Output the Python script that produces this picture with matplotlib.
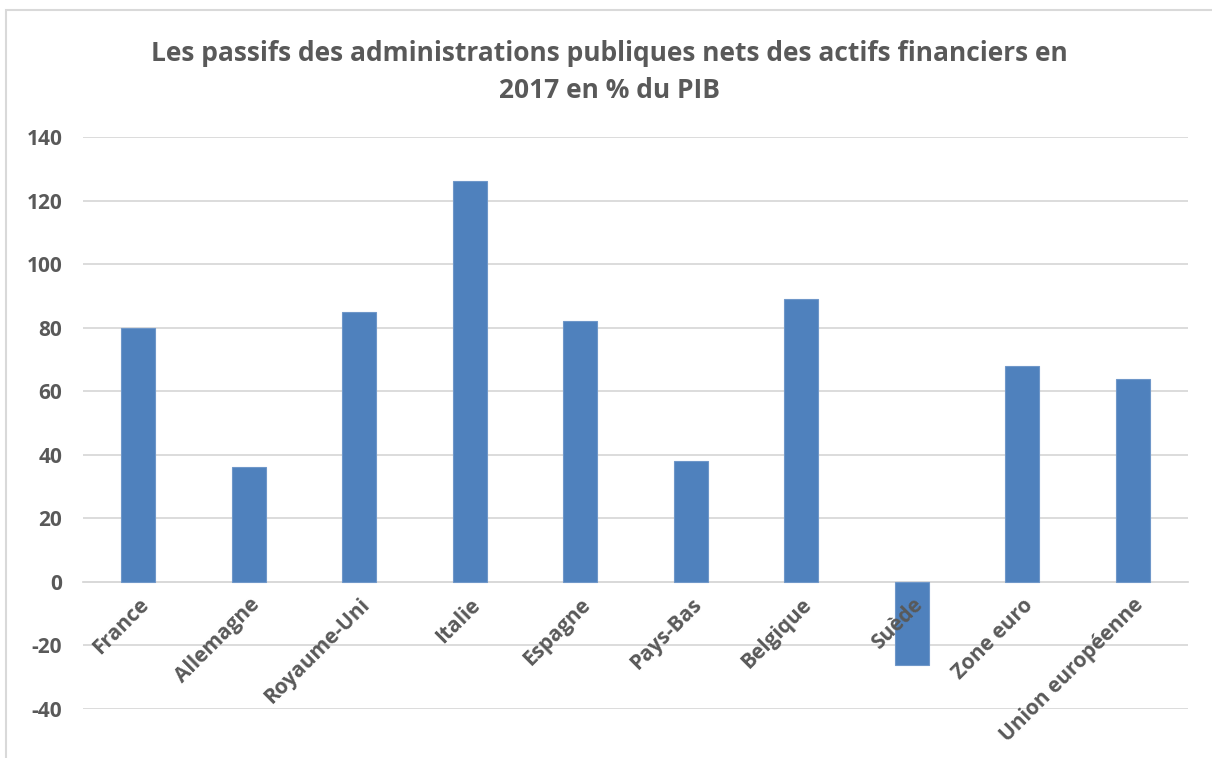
import matplotlib
matplotlib.use('Agg')
import matplotlib.pyplot as plt
import numpy as np
from matplotlib.patches import Rectangle

# données du graphique
pays = ['France', 'Allemagne', 'Royaume-Uni', 'Italie', 'Espagne', 'Pays-Bas',
        'Belgique', 'Suède', 'Zone euro', 'Union européenne']
valeurs = [80, 36, 85, 126, 82, 38, 89, -26, 68, 64]
yticks = [-40, -20, 0, 20, 40, 60, 80, 100, 120, 140]
titre = 'Les passifs des administrations publiques nets des actifs financiers en\n2017 en % du PIB'

plt.rcParams['font.family'] = ['Open Sans', 'DejaVu Sans']
gris = '#595959'
bleu = '#4f81bd'

fig = plt.figure(figsize=(12.12, 7.58), dpi=100)
ax = fig.add_axes([0.0685, 0.0646, 0.9117, 0.7547])

x = np.arange(len(pays))
ax.bar(x, valeurs, width=0.31, color=bleu, edgecolor='#6f97c9', linewidth=0.8, zorder=3)

ax.set_xlim(-0.5, len(pays) - 0.5)
ax.set_ylim(-40, 140)
ax.set_yticks(yticks)
ax.set_yticklabels([str(v) for v in yticks], fontsize=15, fontweight='bold', color=gris)
ax.tick_params(axis='y', length=0, pad=15)

# grille horizontale
ax.grid(axis='y', color='#d9d9d9', linewidth=1.3, zorder=0)
for s in ['top', 'right', 'left']:
    ax.spines[s].set_visible(False)
# axe des x à zéro
ax.spines['bottom'].set_position(('data', 0))
ax.spines['bottom'].set_color('#d9d9d9')
ax.spines['bottom'].set_linewidth(1.3)
ax.set_xticks(x)
ax.set_xticklabels(pays, fontsize=15, fontweight='bold', color=gris,
                   rotation=45, ha='right', va='top', rotation_mode='anchor')
ax.tick_params(axis='x', length=0, pad=9)
ax.xaxis.set_zorder(5)

fig.text(0.503, 0.905, titre, ha='center', va='center', fontsize=19,
         fontweight='bold', color=gris, linespacing=1.5)

# cadre du graphique
fig.patches.append(Rectangle((0.005, -0.01), 1.0, 1.0 - 0.0035, transform=fig.transFigure,
                             fill=False, edgecolor='#d9d9d9', linewidth=1.5))

plt.savefig('out.png', dpi=100)
